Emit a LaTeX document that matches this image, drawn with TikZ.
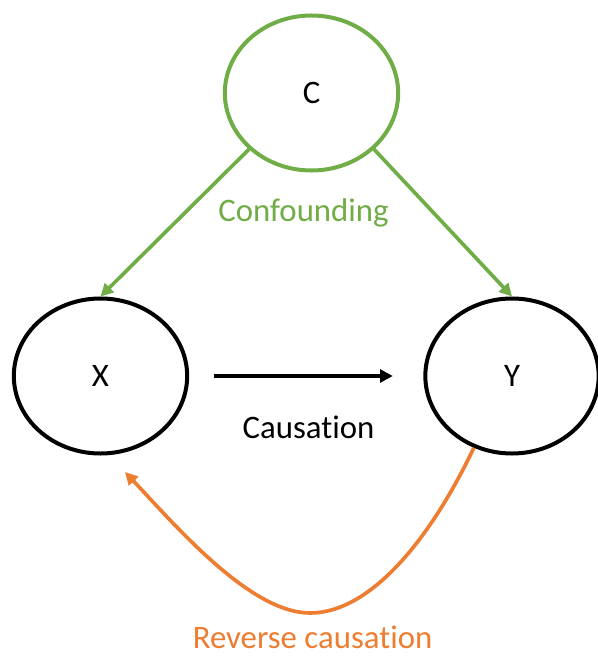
\documentclass[tikz,border=0pt]{standalone}
\usepackage{fontspec}
\setmainfont[Ligatures=NoCommon]{Carlito}
\usepackage{tikz}
\usetikzlibrary{arrows.meta,shapes.geometric}
\definecolor{confgreen}{HTML}{70AD47}
\definecolor{revorange}{HTML}{ED7D31}

\begin{document}
\begin{tikzpicture}[
        x=0.03cm, y=-0.03cm,
        font=\fontsize{28}{34}\selectfont,
        var/.style={draw, ellipse, line width=0.12cm, minimum width=5.2cm, minimum height=4.65cm, inner sep=0pt},
        link/.style={line width=0.11cm, -{Triangle[length=0.38cm,width=0.38cm]}},
        lbl/.style={anchor=base, inner sep=1pt}
    ]
        \useasboundingbox (0,0) rectangle (597,657);

        \node[var, draw=confgreen] (c) at (311.5,93) {C};
        \node[var] (x) at (100.5,376) {X};
        \node[var] (y) at (512,376) {Y};

        \draw[link, confgreen] (c.222) -- (x.north);
        \draw[link, confgreen] (c.318) -- (y.north);
        \node[lbl, text=confgreen] (conf) at (303.5,222) {Confounding};

        \draw[link, shorten <=0.75cm, shorten >=0.915cm] (x.east) -- (y.west);
        \node[lbl] (caus) at (308.5,438) {Causation};

        \coordinate (rbot) at (310,613);
        \coordinate (rend) at (125,472);
        \draw[link, revorange] (y.242) .. controls (430,540) and (370,613) .. (rbot)
            .. controls (250,613) and (175,525) .. (rend);
        \node[lbl, text=revorange] (rev) at (312.5,648) {Reverse causation};
    \end{tikzpicture}
\end{document}
